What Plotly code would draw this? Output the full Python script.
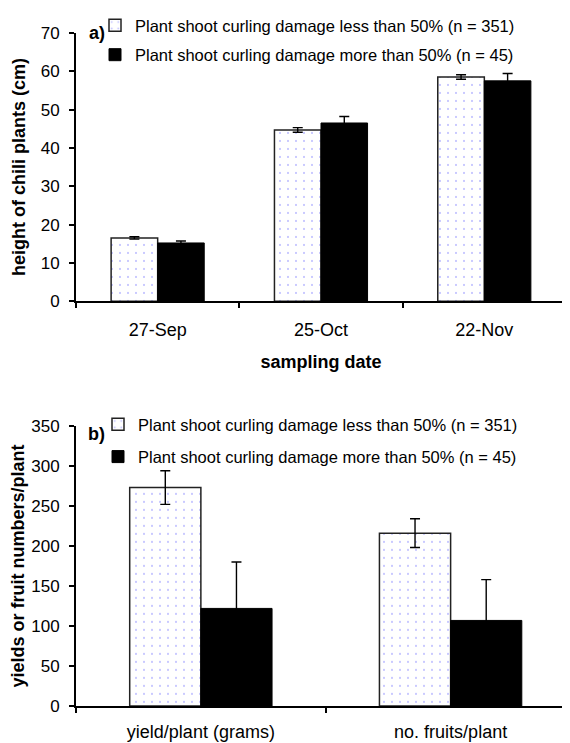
import plotly.graph_objects as go

# ---------------- data ----------------
dates = ["27-Sep", "25-Oct", "22-Nov"]
height_low = [16.5, 44.7, 58.5]
height_low_err = [0.3, 0.6, 0.6]
height_high = [15.2, 46.5, 57.5]
height_high_err = [0.5, 1.7, 1.9]

yield_cats = ["yield/plant (grams)", "no. fruits/plant"]
yield_low = [273, 216]
yield_low_err = [21, 18]
yield_high = [122, 107]
yield_high_err = [58, 51]

name_low = "Plant shoot curling damage less than 50% (n = 351)"
name_high = "Plant shoot curling damage more than 50% (n = 45)"

# ---------------- layout geometry ----------------
# page has an 8px body margin: figure pixel = page pixel - 8
OFF = 8
W, H = 570 - OFF, 743 - OFF
FONT = "Liberation Sans, Arial, sans-serif"

def px(xp):
    return (xp - OFF) / W

def py(yp):
    return 1 - (yp - OFF) / H

def yd(top_px, bot_px):
    return [py(bot_px), py(top_px)]

pattern = dict(shape=".", fgcolor="#7272ff", bgcolor="white", size=8, solidity=0.05)
err_style = dict(type="data", color="black", thickness=1.4, width=5, visible=True)

fig = go.Figure()

# top chart
fig.add_trace(go.Bar(
    x=dates, y=height_low, name=name_low, xaxis="x", yaxis="y",
    marker=dict(color="white", pattern=pattern, line=dict(color="#222", width=1.5)),
    error_y=dict(array=height_low_err, **err_style),
    legend="legend", legendgroup="a1",
))
fig.add_trace(go.Bar(
    x=dates, y=height_high, name=name_high, xaxis="x", yaxis="y",
    marker=dict(color="black", line=dict(color="black", width=1)),
    error_y=dict(array=height_high_err, **err_style),
    legend="legend", legendgroup="a2",
))

# bottom chart
fig.add_trace(go.Bar(
    x=yield_cats, y=yield_low, name=name_low, xaxis="x2", yaxis="y2",
    marker=dict(color="white", pattern=pattern, line=dict(color="#222", width=1.5)),
    error_y=dict(array=yield_low_err, **err_style),
    legend="legend2", legendgroup="b1",
))
fig.add_trace(go.Bar(
    x=yield_cats, y=yield_high, name=name_high, xaxis="x2", yaxis="y2",
    marker=dict(color="black", line=dict(color="black", width=1)),
    error_y=dict(array=yield_high_err, **err_style),
    legend="legend2", legendgroup="b2",
))

axis_common = dict(
    showline=True, linecolor="black", linewidth=2,
    ticks="outside", ticklen=5, tickwidth=2, tickcolor="black",
    showgrid=False, zeroline=False, automargin=False,
)

fig.update_layout(
    width=W, height=H,
    margin=dict(l=0, r=0, t=0, b=0),
    paper_bgcolor="white", plot_bgcolor="white",
    font=dict(family=FONT, color="black", size=17),
    barmode="group", bargap=0.43, bargroupgap=0,
    xaxis=dict(
        domain=[px(76), px(566)], anchor="y", type="category",
        range=[-0.5, 2.5], tickson="boundaries",
        tickfont=dict(size=18), ticklabelstandoff=11,
        title=dict(text="<b>sampling date</b>", font=dict(size=18), standoff=17),
        **axis_common,
    ),
    yaxis=dict(
        domain=yd(31, 300), anchor="x", range=[0, 70], dtick=10,
        tickfont=dict(size=17), ticklabelstandoff=6,
        title=dict(text="<b>height of chili plants (cm)</b>", font=dict(size=18), standoff=10),
        **axis_common,
    ),
    xaxis2=dict(
        domain=[px(76), 1.0], anchor="y2", type="category",
        range=[-0.5, 1.478], tickson="boundaries",
        tickfont=dict(size=18), ticklabelstandoff=8,
        **axis_common,
    ),
    yaxis2=dict(
        domain=yd(425, 706), anchor="x2", range=[0, 350], dtick=50,
        tickfont=dict(size=17), ticklabelstandoff=6,
        title=dict(text="<b>yields or fruit numbers/plant</b>", font=dict(size=18), standoff=14),
        **axis_common,
    ),
    legend=dict(
        x=px(95), xanchor="left", y=py(6), yanchor="top",
        font=dict(size=16.5), bgcolor="rgba(0,0,0,0)", borderwidth=0,
        traceorder="grouped", tracegroupgap=5, itemclick=False,
    ),
    legend2=dict(
        x=px(98), xanchor="left", y=py(406), yanchor="top",
        font=dict(size=16.5), bgcolor="rgba(0,0,0,0)", borderwidth=0,
        traceorder="grouped", tracegroupgap=8, itemclick=False,
    ),
    annotations=[
        dict(text="<b>a)</b>", x=px(97), y=py(31.5), xref="paper", yref="paper",
             showarrow=False, font=dict(size=18), xanchor="center", yanchor="middle"),
        dict(text="<b>b)</b>", x=px(96), y=py(433), xref="paper", yref="paper",
             showarrow=False, font=dict(size=18), xanchor="center", yanchor="middle"),
    ],
)

fig.write_html("out.html")
